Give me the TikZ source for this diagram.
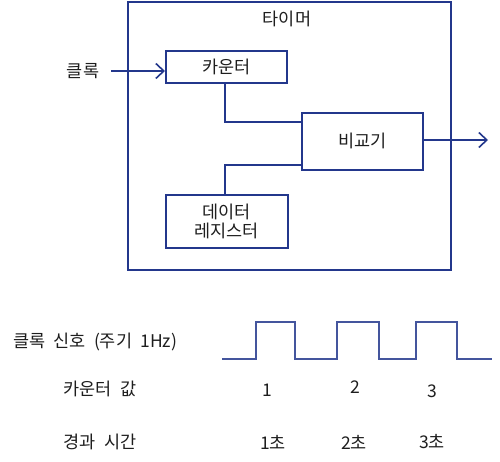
\documentclass[tikz,border=0pt]{standalone}
\usepackage{fontspec}
\setmainfont[WordSpace=2.1]{Noto Sans CJK KR}
\usetikzlibrary{arrows.meta}
\definecolor{navy}{RGB}{35,55,140}
\definecolor{txt}{RGB}{30,30,30}
\begin{document}
\begin{tikzpicture}[x=1pt,y=-1pt,
  blk/.style={draw=navy,line width=1.6pt,minimum height=0pt,minimum width=0pt,inner sep=0pt},
  wire/.style={draw=navy,line width=1.6pt},
  arr/.style={wire,-{Straight Barb[length=8pt,width=15pt,line width=1.6pt]}},
  lbl/.style={text=txt,font=\fontsize{17.5}{20}\selectfont,inner sep=0pt},
  wave/.style={draw=navy!85!white,line width=1.6pt}]
\useasboundingbox (0,0) rectangle (500,462);
% outer timer box
\node[blk,minimum width=323pt,minimum height=268pt,anchor=north west] (timer) at (127,1) {};
\node[lbl] (title) at (287,19) {타이머};
% blocks
\node[blk,minimum width=121pt,minimum height=32pt,anchor=north west] (cnt) at (165,50) {};
\node[lbl] at (cnt.center) {카운터};
\node[blk,minimum width=121pt,minimum height=57pt,anchor=north west] (cmp) at (301,112) {};
\node[lbl] at (cmp.center) {비교기};
\node[blk,minimum width=122pt,minimum height=53pt,anchor=north west] (reg) at (165,194) {};
\node[lbl,align=center] at (reg.center) {데이터\\[-1pt]레지스터};
% clock input
\node[lbl] (clk) at (83,71) {클록};
\coordinate (clkstart) at (111,71);
\draw[arr] (clkstart) -- (cnt.west |- clkstart);
% connections
\coordinate (c1) at (225,122);
\coordinate (c2) at (225,165);
\draw[wire] (cnt.south -| c1) -- (c1) -- (cmp.west |- c1);
\draw[wire] (reg.north -| c2) -- (c2) -- (cmp.west |- c2);
% output
\coordinate (out) at (488,140);
\draw[arr] (cmp.east |- out) -- (out);
% bottom timing
\node[lbl,anchor=west] (sig) at (13,342) {클록 신호 (주기 1Hz)};
\node[lbl] (cv) at (100,389) {카운터 값};
\node[lbl] (et) at (100,442) {경과 시간};
\coordinate (w0) at (222,359);
\draw[wave] (w0) -- (256,359) -- (256,322) -- (295,322) -- (295,359) -- (337,359) -- (337,322) -- (379,322) -- (379,359) -- (416,359) -- (416,322) -- (457,322) -- (457,359) -- (492,359);
\node[lbl] (v1) at (267,390) {1};
\node[lbl] (v2) at (355,387) {2};
\node[lbl] (v3) at (432,391) {3};
\node[lbl] (t1) at (273,442) {1초};
\node[lbl] (t2) at (354,442) {2초};
\node[lbl] (t3) at (432,442) {3초};
\end{tikzpicture}
\end{document}
